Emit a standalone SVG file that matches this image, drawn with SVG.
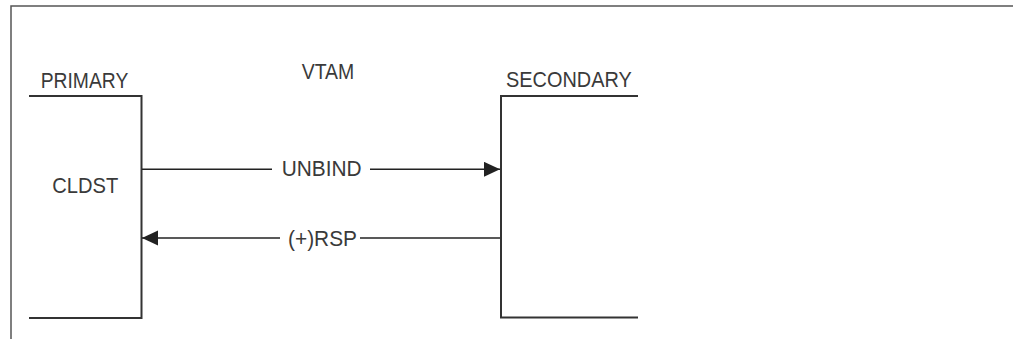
<svg xmlns="http://www.w3.org/2000/svg" width="1014" height="339" viewBox="0 0 1014 339">
<style>
.t{font-family:"Liberation Sans",Arial,sans-serif;font-size:21.5px;fill:#3a3a3a}
.frame{fill:none;stroke:#555;stroke-width:1.5}
.box{fill:none;stroke:#333;stroke-width:2}
.conn{fill:none;stroke:#222;stroke-width:1.5}
</style>
<defs>
<marker id="ah" markerUnits="userSpaceOnUse" markerWidth="17" markerHeight="16" refX="16" refY="7.5" orient="auto">
<path d="M0,0 L16,7.5 L0,15 Z" fill="#222"/>
</marker>
</defs>
<rect width="1014" height="339" fill="#fff"/>
<path class="frame" d="M11,339 V6 H1013"/>
<text class="t" x="301.7" y="79.3" textLength="52.6" lengthAdjust="spacingAndGlyphs">VTAM</text>
<g id="primary">
<path class="box" d="M29,96 H141.5 V318 H29"/>
<text class="t" x="40.7" y="88.3" textLength="87.6" lengthAdjust="spacingAndGlyphs">PRIMARY</text>
<text class="t" x="52.3" y="192.5" textLength="66" lengthAdjust="spacingAndGlyphs">CLDST</text>
</g>
<g id="secondary">
<path class="box" d="M638,96 H501 V317.5 H638"/>
<text class="t" x="506" y="86.7" textLength="125.7" lengthAdjust="spacingAndGlyphs">SECONDARY</text>
</g>
<g id="connectors">
<path class="conn" d="M142,169.3 H272"/>
<path class="conn" d="M370,169.3 H500" marker-end="url(#ah)"/>
<text class="t" x="281.7" y="175.8" textLength="80" lengthAdjust="spacingAndGlyphs">UNBIND</text>
<path class="conn" d="M280,238 H142" marker-end="url(#ah)"/>
<path class="conn" d="M500,238 H360"/>
<text class="t" x="288" y="245.5" textLength="69" lengthAdjust="spacingAndGlyphs">(+)RSP</text>
</g>
</svg>
